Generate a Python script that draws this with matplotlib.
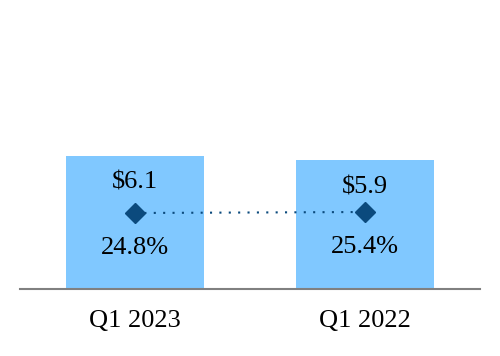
import numpy as np
import matplotlib
matplotlib.use('Agg')
import matplotlib.pyplot as plt

quarters = ['Q1 2023', 'Q1 2022']
revenue = [6.1, 5.9]
revenue_labels = ['$6.1', '$5.9']
margin = [24.8, 25.4]
margin_labels = ['24.8%', '25.4%']

plt.rcParams['font.family'] = ['Liberation Serif', 'DejaVu Serif']

fig = plt.figure(figsize=(5, 3.56), dpi=100)
ax = fig.add_axes([0.04, 67 / 356, 0.92, 289 / 356])
x = np.arange(len(quarters))

ax.bar(x, revenue, width=0.6, color='#80c8ff', zorder=1)
ax.set_xlim(-0.5, 1.5)
ax.set_ylim(0, 13.25)
for s in ['top', 'right', 'left']:
    ax.spines[s].set_visible(False)
ax.spines['bottom'].set_color('#808080')
ax.spines['bottom'].set_linewidth(1.5)
ax.set_yticks([])
ax.set_xticks(x)
ax.set_xticklabels(quarters, fontsize=19)
ax.tick_params(axis='x', length=0, pad=15)

for xi, v, lab in zip(x, revenue, revenue_labels):
    ax.annotate(lab, (xi, v), xytext=(0, -27 * 0.72), textcoords='offset points',
                ha='center', va='center', fontsize=19)

ax2 = ax.twinx()
ax2.set_ylim(-20.8, 152.6)
ax2.axis('off')
ax2.plot(x, margin, color='#0b4a7d', linestyle=(0, (1, 3.5)), linewidth=1.5,
         marker='D', markersize=10.5, zorder=3)
for xi, v, lab in zip(x, margin, margin_labels):
    ax2.annotate(lab, (xi, v), xytext=(0, -35 * 0.72), textcoords='offset points',
                 ha='center', va='center', fontsize=19)

fig.savefig('out.png', dpi=100)
